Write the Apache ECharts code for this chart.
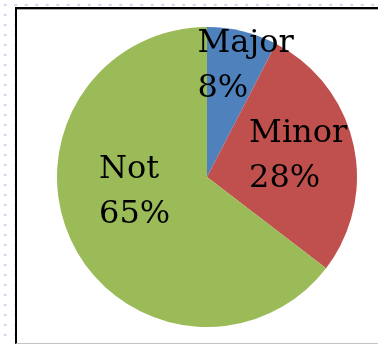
<!DOCTYPE html>
<html>
<head>
<meta charset="utf-8">
<script src="https://cdn.jsdelivr.net/npm/echarts@6/dist/echarts.min.js"></script>
<style>
  html, body { margin: 0; padding: 0; }
  body {
    width: 378px; height: 344px; position: relative; overflow: hidden;
    background-color: #ffffff;
    background-image: radial-gradient(circle, #d6d4ef 1.2px, transparent 1.6px);
    background-size: 10.5px 10px;
    background-position: 0px 0px;
  }
  #frame {
    position: absolute; left: 15px; top: 7px; width: 363px; height: 334px;
    background: #ffffff;
    border-left: 2px solid #000;
    border-top: 2px solid #000;
    border-bottom: 1px solid #c4c4c4;
    box-shadow: inset 0 1px 0 #a8a8a8;
  }
  #chart { position: absolute; left: 0; top: 0; width: 378px; height: 344px; }
</style>
</head>
<body>
<div id="frame"></div>
<div id="chart"></div>
<script>
// Data
const categories = ['Major', 'Minor', 'Not'];
const values = [7.6, 27.8, 64.6];
const colors = ['#4F81BD', '#C0504D', '#9BBB59'];

// label shifts relative to the library's inside-label position (left edge, vertical centre)
const labelShift = [[-28, -35], [-34, -4], [-38, -19]];

const chart = echarts.init(document.getElementById('chart'), null, { renderer: 'canvas' });

chart.setOption({
  backgroundColor: 'transparent',
  animation: false,
  series: [{
    type: 'pie',
    center: [207, 177],
    radius: [0, 150],
    startAngle: 90,
    clockwise: true,
    silent: true,
    label: {
      show: true,
      position: 'inside',
      formatter: p => p.name + '\n' + Math.round(p.value) + '%',
      fontFamily: '"DejaVu Serif", "Liberation Serif", serif',
      fontSize: 32,
      lineHeight: 45,
      color: '#000'
    },
    labelLine: { show: false },
    labelLayout: function (params) {
      const r = params.labelRect;
      const s = labelShift[params.dataIndex];
      return {
        x: r.x + r.width / 2 + s[0],
        y: r.y + r.height / 2 + s[1],
        align: 'left',
        verticalAlign: 'middle'
      };
    },
    itemStyle: { borderWidth: 0 },
    data: categories.map((c, i) => ({ name: c, value: values[i], itemStyle: { color: colors[i] } }))
  }]
});
</script>
</body>
</html>
